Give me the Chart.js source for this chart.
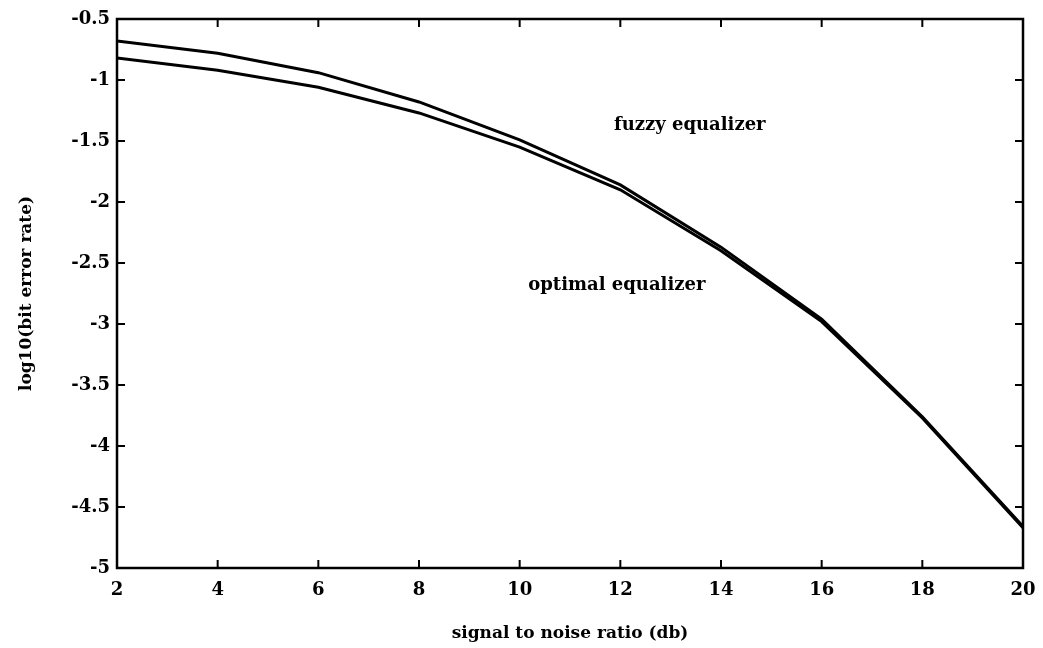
<!DOCTYPE html>
<html>
<head>
<meta charset="utf-8">
<script src="https://cdn.jsdelivr.net/npm/chart.js"></script>
<style>
html,body{margin:0;padding:0;background:#fff;}
#wrap{width:1043px;height:648px;position:relative;}
</style>
</head>
<body>
<div id="wrap"><canvas id="c" width="1043" height="648"></canvas></div>
<script>
const snr = [2, 4, 6, 8, 10, 12, 14, 16, 18, 20];
const fuzzyBER = [-0.68, -0.78, -0.94, -1.18, -1.49, -1.86, -2.37, -2.96, -3.76, -4.66];
const optimalBER = [-0.82, -0.92, -1.06, -1.27, -1.55, -1.90, -2.40, -2.98, -3.77, -4.67];
const xTicks = [2, 4, 6, 8, 10, 12, 14, 16, 18, 20];
const yTicks = [-5, -4.5, -4, -3.5, -3, -2.5, -2, -1.5, -1, -0.5];
const labels = [
  {text: 'fuzzy equalizer', x: 13.38, y: -1.37},
  {text: 'optimal equalizer', x: 11.93, y: -2.68}
];

const FONT = '"DejaVu Serif", "Liberation Serif", serif';

const frame = {
  id: 'frame',
  afterDatasetsDraw(chart) {
    const {ctx, chartArea: a, scales} = chart;
    ctx.save();
    ctx.strokeStyle = '#000';
    ctx.lineWidth = 2.5;
    ctx.strokeRect(a.left, a.top, a.right - a.left, a.bottom - a.top);
    const L = 8;
    ctx.lineWidth = 2;
    ctx.beginPath();
    xTicks.forEach(v => {
      const px = scales.x.getPixelForValue(v);
      ctx.moveTo(px, a.bottom); ctx.lineTo(px, a.bottom - L);
      ctx.moveTo(px, a.top); ctx.lineTo(px, a.top + L);
    });
    yTicks.forEach(v => {
      const py = scales.y.getPixelForValue(v);
      ctx.moveTo(a.left, py); ctx.lineTo(a.left + L, py);
      ctx.moveTo(a.right, py); ctx.lineTo(a.right - L, py);
    });
    ctx.stroke();
    ctx.fillStyle = '#000';
    ctx.font = 'bold 18px ' + FONT;
    ctx.textAlign = 'center';
    ctx.textBaseline = 'middle';
    labels.forEach(l => {
      ctx.fillText(l.text, scales.x.getPixelForValue(l.x), scales.y.getPixelForValue(l.y));
    });
    ctx.restore();
  }
};

new Chart(document.getElementById('c'), {
  type: 'line',
  data: {
    datasets: [
      {label: 'fuzzy equalizer', data: snr.map((x, i) => ({x, y: fuzzyBER[i]})), borderColor: '#000', borderWidth: 3, pointRadius: 0, tension: 0, fill: false},
      {label: 'optimal equalizer', data: snr.map((x, i) => ({x, y: optimalBER[i]})), borderColor: '#000', borderWidth: 3, pointRadius: 0, tension: 0, fill: false}
    ]
  },
  options: {
    responsive: false,
    animation: false,
    devicePixelRatio: 1,
    layout: {padding: {top: 19, right: 20, left: 0, bottom: 0}},
    plugins: {legend: {display: false}, tooltip: {enabled: false}},
    scales: {
      x: {
        type: 'linear', min: 2, max: 20,
        afterFit(s) { s.height = 80; s.paddingRight = 0; s.paddingLeft = 0; },
        afterBuildTicks(s) { s.ticks = xTicks.map(v => ({value: v})); },
        grid: {display: false, drawTicks: false},
        border: {display: false},
        ticks: {color: '#000', font: {family: FONT, size: 18, weight: 'bold'}, padding: 12, maxRotation: 0, callback: v => String(v)},
        title: {display: true, text: 'signal to noise ratio (db)', color: '#000', font: {family: FONT, size: 17, weight: 'bold'}, padding: {top: 0, bottom: 4}}
      },
      y: {
        type: 'linear', min: -5, max: -0.5,
        afterFit(s) { s.width = 117; s.paddingTop = 0; s.paddingBottom = 0; },
        afterBuildTicks(s) { s.ticks = yTicks.map(v => ({value: v})); },
        grid: {display: false, drawTicks: false},
        border: {display: false},
        ticks: {color: '#000', font: {family: FONT, size: 18, weight: 'bold'}, padding: 7, callback: v => String(v)},
        title: {display: true, text: 'log10(bit error rate)', color: '#000', font: {family: FONT, size: 17, weight: 'bold'}, padding: {top: 16, bottom: 0}}
      }
    }
  },
  plugins: [frame]
});
</script>
</body>
</html>
